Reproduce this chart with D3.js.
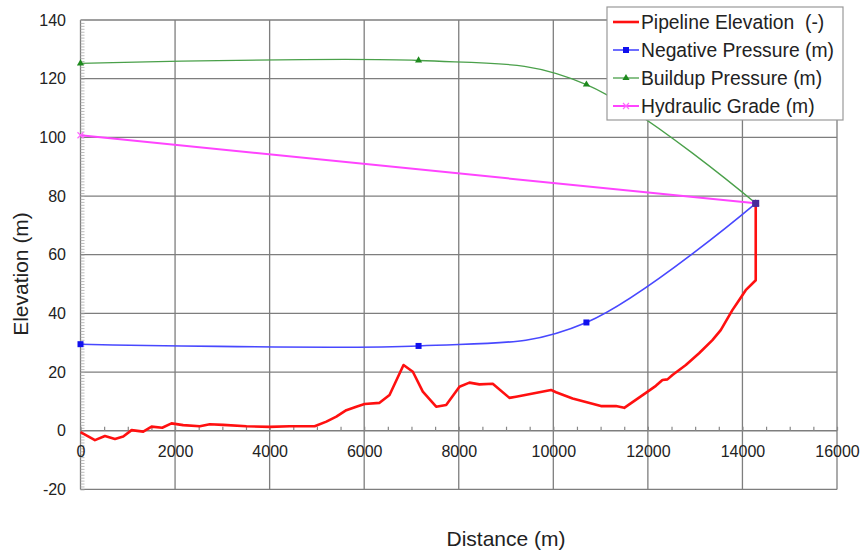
<!DOCTYPE html>
<html>
<head>
<meta charset="utf-8">
<script src="https://cdn.jsdelivr.net/npm/d3@7"></script>
<style>
  body { margin: 0; background: #fff; }
  text { font-family: "Liberation Sans", Arial, sans-serif; fill: #222; }
</style>
</head>
<body>
<div id="chart"></div>
<script>
// pipeline profile (red)
const pipeDistance = [0, 306, 517, 729, 904, 1081, 1327, 1503, 1728, 1925, 2172, 2524, 2735, 3016,
  3510, 4002, 4424, 4952, 5200, 5411, 5622, 5833, 6008, 6325, 6536, 6832, 7029, 7240, 7522, 7734,
  8015, 8226, 8437, 8719, 9071, 9212, 9951, 10057, 10408, 11007, 11324, 11500, 11958, 12169, 12308,
  12414, 12520, 12803, 13083, 13365, 13541, 13787, 13928, 14069, 14281, 14281];
const pipeElevation = [-0.5, -3.2, -1.8, -2.8, -2, 0.2, -0.3, 1.4, 1.0, 2.5, 1.9, 1.5, 2.2, 2,
  1.5, 1.3, 1.5, 1.5, 3.1, 4.8, 7.0, 8.2, 9.1, 9.5, 12.2, 22.4, 20.1, 13.3, 8.2, 8.8,
  15, 16.4, 15.8, 16, 11.2, 11.6, 13.9, 13.1, 11, 8.4, 8.4, 7.8, 12.9, 15.3, 17.3,
  17.5, 19, 22.4, 26.4, 30.9, 34.3, 41.1, 44.5, 47.9, 51.3, 77.5];

// pressure envelopes (smoothed, marker at each point)
const envDistance = [0, 7150, 10700, 14281];
const negativePressure = [29.5, 28.9, 36.9, 77.5];
const buildupPressure = [125.2, 126.2, 118, 77.5];

// hydraulic grade line
const hglDistance = [0, 14281];
const hydraulicGrade = [100.7, 77.5];

const xTicks = [0, 2000, 4000, 6000, 8000, 10000, 12000, 14000, 16000];
const yTicks = [-20, 0, 20, 40, 60, 80, 100, 120, 140];

const W = 863, H = 551;
const svg = d3.select("#chart").append("svg")
  .attr("width", W).attr("height", H);
svg.append("rect").attr("width", W).attr("height", H).attr("fill", "#fff");

const x = d3.scaleLinear().domain([0, 16000]).range([80.5, 837]);
const y = d3.scaleLinear().domain([-20, 140]).range([489.4, 20]);

// grid
const grid = svg.append("g").attr("stroke", "#7e7e7e").attr("stroke-width", 1.3);
grid.selectAll("line.h").data(yTicks).enter().append("line")
  .attr("x1", x(0)).attr("x2", x(16000))
  .attr("y1", d => y(d)).attr("y2", d => y(d));
grid.selectAll("line.v").data(xTicks).enter().append("line")
  .attr("x1", d => x(d)).attr("x2", d => x(d))
  .attr("y1", y(140)).attr("y2", y(-20));

// y minor ticks
const yMinor = svg.append("g")
  .attr("transform", "translate(" + x(0) + ",0)")
  .call(d3.axisRight(y).ticks(160).tickSize(4).tickFormat(""));
yMinor.select(".domain").remove();
yMinor.selectAll("line").attr("stroke", "#aaa").attr("stroke-width", 0.8);

// x minor ticks on the zero line
const xMinor = svg.append("g")
  .attr("transform", "translate(0," + y(0) + ")")
  .call(d3.axisTop(x).tickValues(d3.range(0, 16001, 500)).tickSize(4).tickFormat(""));
xMinor.select(".domain").remove();
xMinor.selectAll("line").attr("stroke", "#888").attr("stroke-width", 1.2);

// axis labels
const xAxis = svg.append("g")
  .attr("transform", "translate(0," + y(0) + ")")
  .call(d3.axisBottom(x).tickValues(xTicks).tickSize(0).tickPadding(15).tickFormat(d => String(d)));
xAxis.select(".domain").remove();
xAxis.selectAll("text").attr("font-size", 16).attr("font-family", "Liberation Sans, Arial, sans-serif").attr("fill", "#222");

const yAxis = svg.append("g")
  .attr("transform", "translate(" + x(0) + ",0)")
  .call(d3.axisLeft(y).tickValues(yTicks).tickSize(0).tickPadding(14.5).tickFormat(d => String(d)));
yAxis.select(".domain").remove();
yAxis.selectAll("text").attr("font-size", 16).attr("font-family", "Liberation Sans, Arial, sans-serif").attr("fill", "#222");

// series
const smooth = d3.line().curve(d3.curveCardinal.tension(0));
const straight = d3.line();

svg.append("path")
  .attr("d", straight(hglDistance.map((d, i) => [x(d), y(hydraulicGrade[i])])))
  .attr("fill", "none").attr("stroke", "#ff44ff").attr("stroke-width", 2);

svg.append("path")
  .attr("d", smooth(envDistance.map((d, i) => [x(d), y(buildupPressure[i])])))
  .attr("fill", "none").attr("stroke", "#4aa04a").attr("stroke-width", 1.3);

svg.append("path")
  .attr("d", smooth(envDistance.map((d, i) => [x(d), y(negativePressure[i])])))
  .attr("fill", "none").attr("stroke", "#4848ff").attr("stroke-width", 1.6);

svg.append("path")
  .attr("d", straight(pipeDistance.map((d, i) => [x(d), y(pipeElevation[i])])))
  .attr("fill", "none").attr("stroke", "#ff1010").attr("stroke-width", 2.6)
  .attr("stroke-linejoin", "round");

// markers
const tri = d3.symbol().type(d3.symbolTriangle).size(22);
svg.selectAll("path.bm").data(envDistance).enter().append("path")
  .attr("transform", (d, i) => "translate(" + x(d) + "," + y(buildupPressure[i]) + ")")
  .attr("d", tri).attr("fill", "#1e8a1e");
svg.selectAll("rect.nm").data(envDistance).enter().append("rect")
  .attr("x", d => x(d) - 3).attr("y", (d, i) => y(negativePressure[i]) - 3)
  .attr("width", 6).attr("height", 6).attr("fill", "#1010ee");
svg.selectAll("path.hm").data(hglDistance).enter().append("path")
  .attr("transform", (d, i) => "translate(" + x(d) + "," + y(hydraulicGrade[i]) + ")")
  .attr("d", "M-3,-3L3,3M-3,3L3,-3").attr("stroke", "#ff66ff").attr("stroke-width", 1.2);
// overlap at the end point
svg.append("rect")
  .attr("x", x(14281) - 3.5).attr("y", y(77.5) - 3.5)
  .attr("width", 7).attr("height", 7).attr("fill", "#4a2a9a");

// axis titles
svg.append("text").attr("x", 506).attr("y", 546)
  .attr("text-anchor", "middle").attr("font-size", 21).text("Distance (m)");
svg.append("text").attr("transform", "translate(28,274) rotate(-90)")
  .attr("text-anchor", "middle").attr("font-size", 21).text("Elevation (m)");

// legend
const legendItems = [
  { name: "Pipeline Elevation  (-)", color: "#ff1010", width: 2.6, mark: "none" },
  { name: "Negative Pressure (m)", color: "#4848ff", width: 1.6, mark: "square", mc: "#1010ee" },
  { name: "Buildup Pressure (m)", color: "#4aa04a", width: 1.3, mark: "tri", mc: "#1e8a1e" },
  { name: "Hydraulic Grade (m)", color: "#ff44ff", width: 2, mark: "x", mc: "#ff66ff" }
];
const lg = svg.append("g");
lg.append("rect").attr("x", 607).attr("y", 7).attr("width", 236).attr("height", 113)
  .attr("fill", "#fff").attr("stroke", "#999").attr("stroke-width", 1.2);
legendItems.forEach((it, i) => {
  const cy = 22 + i * 28;
  const g = lg.append("g");
  g.append("line").attr("x1", 613).attr("x2", 639).attr("y1", cy).attr("y2", cy)
    .attr("stroke", it.color).attr("stroke-width", it.width);
  if (it.mark === "square") {
    g.append("rect").attr("x", 623).attr("y", cy - 3).attr("width", 6).attr("height", 6).attr("fill", it.mc);
  } else if (it.mark === "tri") {
    g.append("path").attr("transform", "translate(626," + cy + ")").attr("d", tri).attr("fill", it.mc);
  } else if (it.mark === "x") {
    g.append("path").attr("transform", "translate(626," + cy + ")")
      .attr("d", "M-3,-3L3,3M-3,3L3,-3").attr("stroke", it.mc).attr("stroke-width", 1.2);
  }
  g.append("text").attr("x", 641).attr("y", cy).attr("dy", "0.35em")
    .attr("font-size", 19.3).style("white-space", "pre").text(it.name);
});
</script>
</body>
</html>
